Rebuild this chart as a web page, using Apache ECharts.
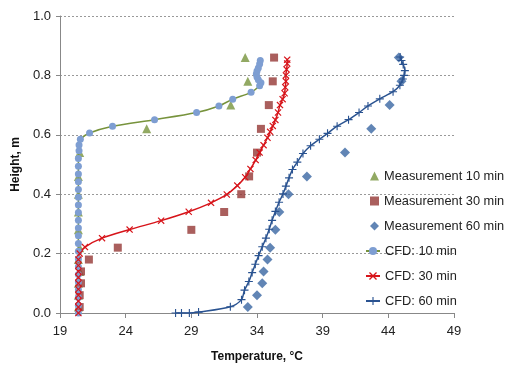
<!DOCTYPE html>
<html>
<head>
<meta charset="utf-8">
<script src="https://cdn.jsdelivr.net/npm/echarts@6/dist/echarts.min.js"></script>
<style>
html,body{margin:0;padding:0;background:#fff;}
#chart{width:506px;height:368px;}
</style>
</head>
<body>
<div id="chart"></div>
<script>
// [temperature °C, height m]
const meas10 = [[20.4,0.02],[20.4,0.06],[20.4,0.10],[20.5,0.14],[20.4,0.18],[20.5,0.22],[20.4,0.28],[20.4,0.34],[20.4,0.40],[20.4,0.46],[20.5,0.54],[25.6,0.62],[32.0,0.70],[33.3,0.78],[33.1,0.86]];
const meas30 = [[20.5,0.02],[20.5,0.06],[20.6,0.10],[20.6,0.14],[21.2,0.18],[23.4,0.22],[29.0,0.28],[31.5,0.34],[32.8,0.40],[33.4,0.46],[34.0,0.54],[34.3,0.62],[34.9,0.70],[35.2,0.78],[35.3,0.86]];
const meas60 = [[33.3,0.02],[34.0,0.06],[34.4,0.10],[34.5,0.14],[34.8,0.18],[35.0,0.22],[35.4,0.28],[35.7,0.34],[36.4,0.40],[37.8,0.46],[40.7,0.54],[42.7,0.62],[44.1,0.70],[45.0,0.78],[44.8,0.86]];
const cfd10 = [[20.4,0.0],[20.4,0.026],[20.4,0.052],[20.4,0.078],[20.4,0.104],[20.4,0.13],[20.4,0.156],[20.4,0.182],[20.4,0.208],[20.4,0.234],[20.4,0.26],[20.4,0.286],[20.4,0.312],[20.4,0.338],[20.4,0.364],[20.4,0.39],[20.4,0.416],[20.4,0.442],[20.4,0.468],[20.4,0.494],[20.4,0.52],[20.45,0.546],[20.45,0.566],[20.55,0.585],[21.25,0.606],[23.0,0.629],[26.2,0.651],[29.4,0.675],[31.1,0.697],[32.15,0.72],[33.55,0.743],[34.2,0.765],[34.3,0.775],[34.1,0.785],[34.0,0.795],[33.95,0.805],[34.0,0.815],[34.1,0.825],[34.2,0.838],[34.25,0.85]];
const cfd30 = [[20.4,0.0],[20.4,0.02],[20.4,0.04],[20.4,0.06],[20.4,0.08],[20.4,0.10],[20.4,0.12],[20.4,0.14],[20.4,0.16],[20.4,0.18],[20.5,0.20],[20.9,0.222],[22.2,0.252],[24.3,0.281],[26.7,0.311],[28.8,0.341],[30.5,0.371],[31.7,0.399],[32.5,0.429],[33.1,0.457],[33.5,0.485],[33.9,0.515],[34.2,0.54],[34.5,0.565],[34.8,0.59],[35.0,0.61],[35.2,0.63],[35.4,0.65],[35.6,0.675],[35.75,0.70],[35.95,0.72],[36.1,0.74],[36.15,0.76],[36.2,0.78],[36.2,0.80],[36.25,0.82],[36.3,0.84],[36.3,0.853]];
const cfd60 = [[27.8,0.0],[28.25,0.0],[28.85,0.0],[29.55,0.003],[31.97,0.021],[32.82,0.045],[33.05,0.077],[33.38,0.106],[33.63,0.136],[33.87,0.164],[34.12,0.193],[34.4,0.223],[34.68,0.252],[34.93,0.282],[35.15,0.312],[35.4,0.342],[35.68,0.373],[35.98,0.401],[36.2,0.427],[36.44,0.455],[36.7,0.483],[37.07,0.508],[37.5,0.537],[38.08,0.563],[38.75,0.585],[39.37,0.605],[40.1,0.629],[40.97,0.651],[41.77,0.675],[42.45,0.697],[43.35,0.721],[44.36,0.745],[44.88,0.767],[45.1,0.788],[45.2,0.80],[45.26,0.816],[45.13,0.837],[45.0,0.85],[44.9,0.862]];

const seriesNames = ['Measurement 10 min','Measurement 30 min','Measurement 60 min','CFD: 10 min','CFD: 30 min','CFD: 60 min'];
const xTitle = 'Temperature, \u00B0C';
const yTitle = 'Height, m';

const X_SYM = 'path://M0,1.2L1.2,0L5,3.8L8.8,0L10,1.2L6.2,5L10,8.8L8.8,10L5,6.2L1.2,10L0,8.8L3.8,5Z';
const PLUS_SYM = 'path://M4.3,0H5.7V4.3H10V5.7H5.7V10H4.3V5.7H0V4.3H4.3Z';

const chart = echarts.init(document.getElementById('chart'), null, {renderer:'canvas'});
const font = '"Liberation Sans", Arial, sans-serif';
const legendText = {fontFamily:font,fontSize:12.8,color:'#222',lineHeight:14};
chart.setOption({
  animation:false,
  backgroundColor:'#fff',
  grid:{left:60,right:52,top:16,bottom:53,containLabel:false},
  legend:[
    {orient:'vertical', left:370, top:169, itemWidth:9, itemHeight:9, itemGap:11, padding:0,
     textStyle:legendText, data:seriesNames.slice(0,3)},
    {orient:'vertical', left:365, top:244, itemWidth:14, itemHeight:10, itemGap:11, padding:0,
     textStyle:legendText, data:seriesNames.slice(3)}
  ],
  xAxis:{
    type:'value', min:19, max:49, interval:5,
    name:xTitle, nameLocation:'middle', nameGap:38,
    nameTextStyle:{fontFamily:font,fontSize:12,fontWeight:'bold',color:'#111'},
    axisLine:{lineStyle:{color:'#888'}},
    axisTick:{show:true,inside:false,length:5,lineStyle:{color:'#888'}},
    axisLabel:{fontFamily:font,fontSize:13,color:'#222',margin:12},
    splitLine:{show:false}
  },
  yAxis:{
    type:'value', min:0, max:1, interval:0.2,
    name:yTitle, nameLocation:'middle', nameGap:35,
    nameTextStyle:{fontFamily:font,fontSize:12,fontWeight:'bold',color:'#111'},
    axisLine:{show:true,lineStyle:{color:'#888'}},
    axisTick:{show:true,inside:false,length:4,lineStyle:{color:'#888'}},
    axisLabel:{fontFamily:font,fontSize:13,color:'#222',margin:9,formatter:v=>v.toFixed(1)},
    splitLine:{show:true,lineStyle:{color:'#999',type:[2,2],width:1}}
  },
  series:[
    {name:seriesNames[0],type:'scatter',data:meas10,symbol:'triangle',symbolSize:9,itemStyle:{color:'#77933C'},z:3},
    {name:seriesNames[1],type:'scatter',data:meas30,symbol:'rect',symbolSize:8,itemStyle:{color:'#953735'},z:3},
    {name:seriesNames[2],type:'scatter',data:meas60,symbol:'diamond',symbolSize:10,itemStyle:{color:'#3A67A3'},z:3},
    {name:seriesNames[3],type:'line',data:cfd10,smooth:0.3,symbol:'circle',symbolSize:7,showSymbol:true,
      lineStyle:{color:'#77933C',width:1.5},itemStyle:{color:'#7E9ED2',borderWidth:0},z:4},
    {name:seriesNames[4],type:'line',data:cfd30,smooth:0.3,symbol:X_SYM,symbolSize:7,showSymbol:true,
      lineStyle:{color:'#D7141A',width:1.5},itemStyle:{color:'#D7141A',borderWidth:0},z:4},
    {name:seriesNames[5],type:'line',data:cfd60,smooth:0.3,symbol:PLUS_SYM,symbolSize:8,showSymbol:true,
      lineStyle:{color:'#2A5391',width:1.5},itemStyle:{color:'#2A5391',borderWidth:0},z:4}
  ]
});
</script>
</body>
</html>
